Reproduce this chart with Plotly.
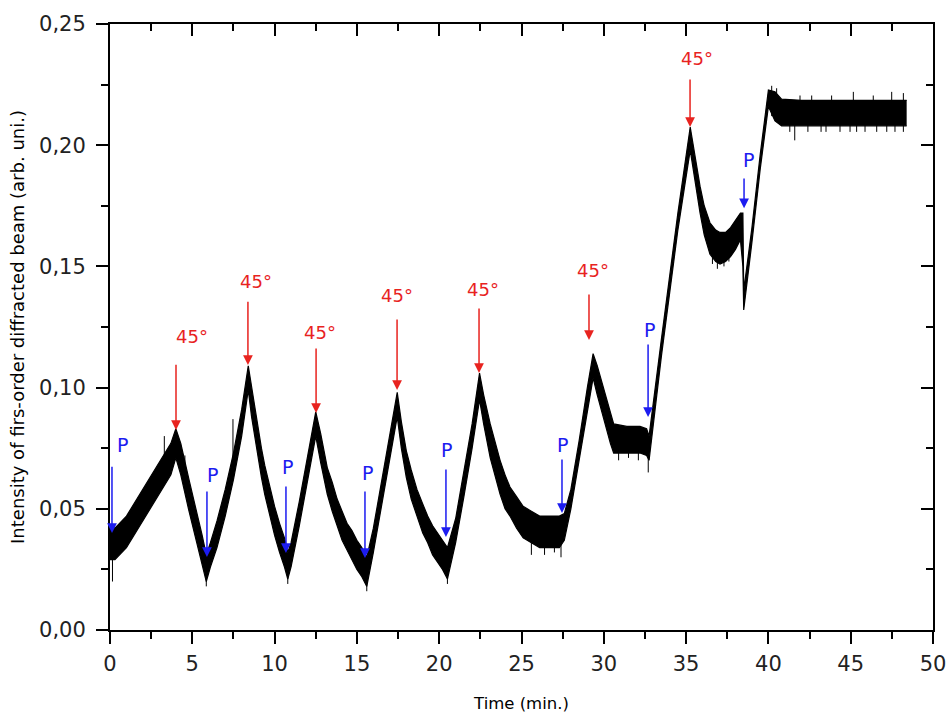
import plotly.graph_objects as go

# Time axis (min) and the lower / upper edges of the noisy first-order signal band
time_min = [0.0, 0.3, 1.0, 2.0, 3.0, 3.7, 4.0, 4.3, 4.8, 5.3, 5.6, 5.85, 6.1, 6.5, 7.0,
            7.5, 8.0, 8.4, 8.6, 8.8, 9.0, 9.2, 9.4, 9.7, 10.0, 10.3, 10.6, 10.8, 11.0,
            11.5, 12.0, 12.5, 12.8, 13.2, 13.5, 13.8, 14.1, 14.4, 14.7, 15.0, 15.3, 15.6,
            16.0, 16.5, 17.0, 17.45, 17.7, 18.0, 18.3, 18.65, 19.0, 19.3, 19.6, 19.9,
            20.2, 20.5, 21.0, 21.5, 22.0, 22.45, 22.7, 23.1, 23.4, 23.7, 24.0, 24.3, 24.7,
            25.1, 25.6, 26.1, 27.3, 27.6, 28.0, 28.5, 29.0, 29.35, 29.6, 29.8, 30.0, 30.2,
            30.4, 30.6, 31.4, 32.2, 32.6, 32.75, 33.5, 34.5, 35.25, 35.5, 35.7, 35.85,
            36.1, 36.45, 36.8, 37.06, 37.4, 37.7, 38.0, 38.3, 38.45, 38.5, 39.0, 39.5,
            40.0, 40.4, 40.8, 42.0, 44.0, 46.0, 48.4]
signal_low = [0.029, 0.029, 0.034, 0.045, 0.056, 0.064, 0.071, 0.064, 0.049, 0.035, 0.026,
              0.020, 0.026, 0.034, 0.047, 0.062, 0.080, 0.099, 0.088, 0.079, 0.071, 0.063,
              0.056, 0.047, 0.039, 0.032, 0.026, 0.021, 0.026, 0.043, 0.061, 0.080, 0.069,
              0.056, 0.049, 0.043, 0.037, 0.033, 0.029, 0.025, 0.022, 0.018, 0.032, 0.051,
              0.070, 0.088, 0.075, 0.063, 0.054, 0.047, 0.040, 0.036, 0.031, 0.028, 0.025,
              0.021, 0.036, 0.055, 0.075, 0.095, 0.085, 0.071, 0.063, 0.056, 0.050, 0.047,
              0.042, 0.038, 0.036, 0.034, 0.034, 0.037, 0.050, 0.070, 0.091, 0.104, 0.097,
              0.092, 0.086, 0.081, 0.077, 0.073, 0.073, 0.073, 0.072, 0.070, 0.113, 0.165,
              0.198, 0.187, 0.178, 0.172, 0.163, 0.155, 0.152, 0.151, 0.152, 0.154, 0.157,
              0.161, 0.150, 0.132, 0.160, 0.190, 0.216, 0.210, 0.208, 0.208, 0.208, 0.208,
              0.208]
signal_high = [0.043, 0.042, 0.047, 0.058, 0.069, 0.077, 0.083, 0.077, 0.062, 0.048, 0.039,
               0.031, 0.036, 0.045, 0.058, 0.073, 0.091, 0.109, 0.100, 0.091, 0.083, 0.075,
               0.068, 0.059, 0.051, 0.044, 0.038, 0.032, 0.036, 0.053, 0.071, 0.090, 0.081,
               0.067, 0.061, 0.054, 0.049, 0.044, 0.041, 0.037, 0.034, 0.030, 0.042, 0.061,
               0.080, 0.098, 0.086, 0.074, 0.066, 0.058, 0.052, 0.047, 0.043, 0.040, 0.037,
               0.034, 0.046, 0.065, 0.085, 0.106, 0.097, 0.085, 0.077, 0.070, 0.064, 0.059,
               0.055, 0.051, 0.049, 0.047, 0.047, 0.048, 0.058, 0.078, 0.100, 0.114, 0.109,
               0.104, 0.099, 0.095, 0.090, 0.085, 0.084, 0.084, 0.083, 0.080, 0.120, 0.172,
               0.2075, 0.197, 0.190, 0.183, 0.175, 0.168, 0.165, 0.164, 0.164, 0.166, 0.169,
               0.172, 0.172, 0.140, 0.166, 0.196, 0.2228, 0.222, 0.219, 0.2185, 0.2185,
               0.2185, 0.2185]

# Isolated noise spikes (time, bottom, top)
spike_t = [0.15, 3.3, 4.55, 5.85, 7.47, 10.8, 15.6, 20.5, 25.6, 26.4, 27.0, 27.4,
           30.9, 31.5, 32.1, 32.7, 36.6, 36.9, 37.3, 37.6,
           40.2, 40.5, 41.3, 41.6, 41.92, 42.4, 42.63, 43.2, 43.5, 43.84, 44.35, 44.96,
           45.16, 45.36, 45.87, 46.37, 46.58, 47.19, 47.49, 47.69, 48.2]
spike_lo = [0.020, 0.068, 0.058, 0.018, 0.066, 0.019, 0.016, 0.019, 0.031, 0.031, 0.032, 0.030,
            0.070, 0.071, 0.070, 0.065, 0.151, 0.149, 0.150, 0.152,
            0.212, 0.214, 0.2055, 0.202, 0.216, 0.2055, 0.216, 0.2055, 0.2055, 0.216, 0.2055,
            0.2055, 0.216, 0.2055, 0.2055, 0.216, 0.2055, 0.2055, 0.216, 0.2055, 0.2055]
spike_hi = [0.032, 0.080, 0.072, 0.025, 0.087, 0.025, 0.022, 0.025, 0.036, 0.036, 0.036, 0.036,
            0.075, 0.075, 0.075, 0.075, 0.156, 0.156, 0.156, 0.157,
            0.2245, 0.2235, 0.210, 0.210, 0.2205, 0.210, 0.2205, 0.210, 0.210, 0.2205, 0.210,
            0.210, 0.222, 0.210, 0.210, 0.2205, 0.210, 0.210, 0.222, 0.210, 0.2215]

# Sample rotated to 45 degrees: arrow time, arrow tip, arrow tail, label position
rot_t = [4.01, 8.38, 12.52, 17.44, 22.42, 29.1, 35.24]
rot_tip = [0.0825, 0.1093, 0.0895, 0.099, 0.106, 0.1196, 0.2075]
rot_tail = [0.110, 0.136, 0.1167, 0.1287, 0.1333, 0.139, 0.2277]
rot_label_t = [4.98, 8.87, 12.76, 17.44, 22.66, 29.34, 35.66]
rot_label_y = [0.121, 0.1436, 0.1229, 0.1382, 0.1403, 0.1485, 0.2356]

# Polarizer events "P"
pol_t = [0.12, 5.89, 10.69, 15.49, 20.41, 27.46, 32.69, 38.52]
pol_tip = [0.040, 0.0301, 0.0318, 0.0297, 0.0384, 0.0483, 0.0879, 0.174]
pol_tail = [0.068, 0.0578, 0.0598, 0.0578, 0.0668, 0.071, 0.1184, 0.1869]
pol_label_t = [0.73, 6.2, 10.81, 15.67, 20.47, 27.52, 32.8, 38.82]
pol_label_y = [0.0763, 0.064, 0.0672, 0.0648, 0.0743, 0.0763, 0.1238, 0.1939]

RED = "#e8231f"
BLUE = "#1c1cf0"
FONT = "DejaVu Sans, Liberation Sans, Arial, sans-serif"

fig = go.Figure()

fig.add_trace(go.Scatter(x=time_min, y=signal_low, mode="lines",
                         line=dict(color="black", width=1.2), hoverinfo="skip"))
fig.add_trace(go.Scatter(x=time_min, y=signal_high, mode="lines", fill="tonexty",
                         fillcolor="black", line=dict(color="black", width=1.2),
                         hoverinfo="skip"))

sx, sy = [], []
for t, lo, hi in zip(spike_t, spike_lo, spike_hi):
    sx += [t, t, None]
    sy += [lo, hi, None]
fig.add_trace(go.Scatter(x=sx, y=sy, mode="lines", line=dict(color="black", width=1),
                         hoverinfo="skip"))

# mirror axes (top / right) carrying inward ticks
fig.add_trace(go.Scatter(x=[], y=[], xaxis="x2", yaxis="y2", hoverinfo="skip"))

annotations = []
for t, tip, tail, lt, ly in zip(rot_t, rot_tip, rot_tail, rot_label_t, rot_label_y):
    annotations.append(dict(x=t, y=tip, ax=t, ay=tail, xref="x", yref="y",
                            axref="x", ayref="y", text="", showarrow=True,
                            arrowhead=2, arrowsize=1.3, arrowwidth=1.5,
                            arrowcolor=RED, standoff=0, startstandoff=0))
    annotations.append(dict(x=lt, y=ly, xref="x", yref="y", text="45°",
                            showarrow=False, font=dict(color=RED, size=18, family=FONT)))
for t, tip, tail, lt, ly in zip(pol_t, pol_tip, pol_tail, pol_label_t, pol_label_y):
    annotations.append(dict(x=t, y=tip, ax=t, ay=tail, xref="x", yref="y",
                            axref="x", ayref="y", text="", showarrow=True,
                            arrowhead=2, arrowsize=1.3, arrowwidth=1.5,
                            arrowcolor=BLUE, standoff=0, startstandoff=0))
    annotations.append(dict(x=lt, y=ly, xref="x", yref="y", text="P",
                            showarrow=False, font=dict(color=BLUE, size=19, family=FONT)))

axis_common = dict(showgrid=False, zeroline=False, showline=True, linewidth=2,
                   linecolor="black", tickcolor="black", tickwidth=2, automargin=False)

fig.update_layout(
    width=947, height=715,
    margin=dict(l=110, r=14, t=24, b=85),
    paper_bgcolor="white", plot_bgcolor="white",
    separators=",.",
    showlegend=False,
    font=dict(family=FONT, color="black"),
    annotations=annotations,
    xaxis=dict(range=[0, 50], tick0=0, dtick=5, ticks="outside", ticklen=12,
               tickfont=dict(size=21, color="#222"), ticklabelstandoff=2,
               minor=dict(dtick=2.5, ticks="outside", ticklen=7, tickwidth=2,
                          tickcolor="black", showgrid=False),
               title=dict(text="Time (min.)", font=dict(size=16.5), standoff=22),
               **axis_common),
    yaxis=dict(range=[0, 0.25], tick0=0, dtick=0.05, tickformat=".2f",
               ticks="outside", ticklen=12, tickfont=dict(size=21, color="#222"),
               ticklabelstandoff=6,
               minor=dict(dtick=0.025, ticks="outside", ticklen=7, tickwidth=2,
                          tickcolor="black", showgrid=False),
               title=dict(text="Intensity of firs-order diffracted beam (arb. uni.)",
                          font=dict(size=18), standoff=10),
               **axis_common),
    xaxis2=dict(range=[0, 50], overlaying="x", side="top", anchor="y",
                tick0=0, dtick=5, ticks="inside", ticklen=12, showticklabels=False,
                minor=dict(dtick=2.5, ticks="inside", ticklen=7, tickwidth=2,
                           tickcolor="black", showgrid=False),
                **axis_common),
    yaxis2=dict(range=[0, 0.25], overlaying="y", side="right", anchor="x",
                tick0=0, dtick=0.05, ticks="inside", ticklen=12, showticklabels=False,
                minor=dict(dtick=0.025, ticks="inside", ticklen=7, tickwidth=2,
                           tickcolor="black", showgrid=False),
                **axis_common),
)

fig.write_html("out.html")
